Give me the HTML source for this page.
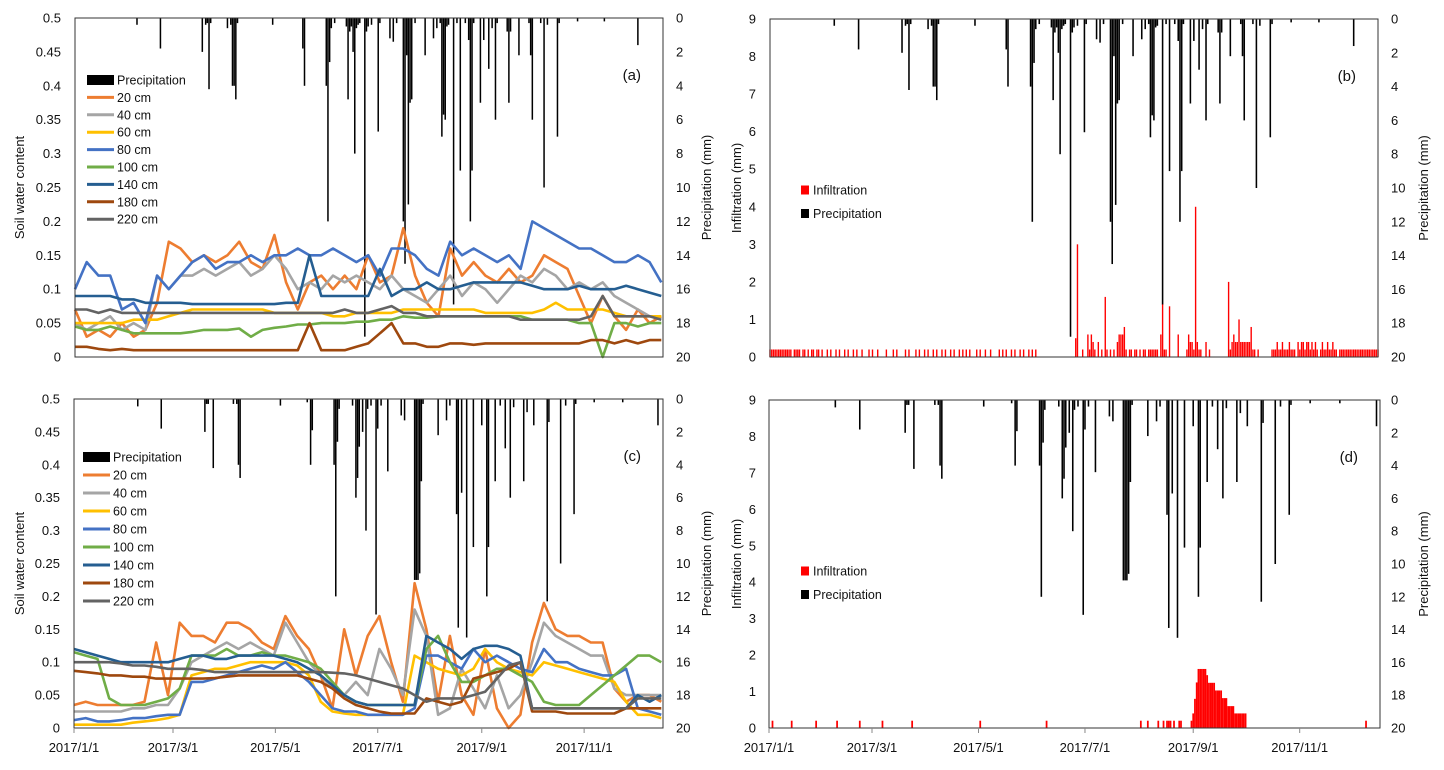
<!DOCTYPE html>
<html><head><meta charset="utf-8">
<style>
html,body{margin:0;padding:0;background:#fff;}
svg{display:block;font-family:"Liberation Sans",Arial,sans-serif;}
</style></head>
<body>
<svg id="fig" width="1444" height="770" viewBox="0 0 1444 770" xmlns="http://www.w3.org/2000/svg"></svg>
<script>
// ---------- DATA ----------
const depthNames = ["20 cm","40 cm","60 cm","80 cm","100 cm","140 cm","180 cm","220 cm"];
const depthColors = ["#ED7D31","#A5A5A5","#FFC000","#4472C4","#70AD47","#255E91","#9E480E","#636363"];
const stepDays = 7;
const dateTickDays = [0,59,120,181,243,304];
const dateTickLabels = ["2017/1/1","2017/3/1","2017/5/1","2017/7/1","2017/9/1","2017/11/1"];
const swcTicks = [0,0.05,0.1,0.15,0.2,0.25,0.3,0.35,0.4,0.45,0.5];
const swcTickLabels = ["0","0.05","0.1","0.15","0.2","0.25","0.3","0.35","0.4","0.45","0.5"];
const precTicks = [0,2,4,6,8,10,12,14,16,18,20];
const infTicks = [0,1,2,3,4,5,6,7,8,9];

const topPrecip = [[37,0.4],[51,1.8],[76,2.0],[78,0.4],[79,0.3],[80,4.2],[81,0.3],[91,0.6],[93,0.4],[94,4.0],[95,4.0],[96,4.8],[97,0.3],[118,0.4],[136,1.8],[137,4.0],[150,4.0],[151,12.0],[152,2.6],[153,0.6],[155,0.3],[162,0.5],[163,4.8],[164,0.8],[165,0.5],[166,2.0],[167,8.0],[168,0.6],[169,0.4],[170,0.3],[173,18.8],[174,0.8],[175,0.5],[177,0.4],[181,6.7],[182,0.3],[188,1.2],[190,1.4],[192,0.3],[196,12],[197,14.5],[198,2.2],[199,11],[200,5],[201,4.8],[203,0.3],[209,2.2],[214,1.2],[216,0.6],[218,0.3],[219,7],[220,5.7],[221,6],[222,0.5],[223,0.4],[226,16.9],[228,0.3],[230,9],[233,0.3],[235,1.3],[236,12],[237,9],[238,0.3],[242,5],[244,1.3],[247,3],[249,0.6],[251,6],[252,0.3],[258,0.8],[259,5],[260,0.8],[265,2.2],[271,0.3],[272,2.2],[273,6],[278,0.3],[280,10],[282,0.4],[288,7],[289,0.3],[300,0.2],[316,0.2],[336,1.6]];
const botPrecip = [[38,0.45],[52,1.8],[78,2.0],[79,0.3],[80,0.3],[83,4.2],[95,0.3],[97,0.3],[98,4.0],[99,4.8],[123,0.4],[139,0.2],[141,4],[142,1.9],[155,4],[156,12],[157,2.6],[158,0.6],[166,0.4],[168,6],[169,4.8],[170,2.9],[172,2.0],[174,8],[175,0.6],[177,0.4],[180,13.1],[181,1.8],[183,0.4],[187,4.4],[195,1.0],[197,1.3],[203,11],[204,11],[205,11],[206,10.6],[207,5],[208,0.3],[217,2.2],[222,1.3],[224,0.4],[228,7],[229,13.9],[231,5.7],[234,14.5],[238,9],[243,1.6],[246,12],[247,9],[251,5],[254,0.4],[257,3],[260,6],[262,0.5],[268,5],[270,0.8],[274,1.6],[282,12.3],[283,1.4],[290,10],[293,0.4],[298,7],[299,0.3],[310,0.2],[327,0.2],[348,1.6]];

const a20 = [0.07,0.03,0.04,0.03,0.05,0.03,0.04,0.08,0.17,0.16, 0.14,0.15,0.14,0.15,0.17,0.14,0.13,0.18,0.11,0.07, 0.11,0.12,0.10,0.12,0.10,0.15,0.11,0.12,0.19,0.12, 0.08,0.06,0.16,0.12,0.14,0.12,0.11,0.13,0.11,0.12, 0.15,0.14,0.13,0.09,0.05,0.09,0.06,0.04,0.07,0.05,0.06];
const a40 = [0.05,0.04,0.05,0.06,0.04,0.05,0.04,0.12,0.10,0.12, 0.12,0.13,0.12,0.13,0.14,0.12,0.13,0.15,0.13,0.10, 0.11,0.10,0.12,0.11,0.12,0.11,0.10,0.12,0.10,0.09, 0.08,0.10,0.12,0.09,0.11,0.10,0.08,0.10,0.12,0.11, 0.13,0.12,0.10,0.11,0.10,0.11,0.09,0.08,0.07,0.06,0.06];
const a60 = [0.05,0.05,0.05,0.05,0.05,0.055,0.055,0.055,0.06,0.065, 0.07,0.07,0.07,0.07,0.07,0.07,0.07,0.065,0.065,0.065, 0.065,0.065,0.06,0.06,0.065,0.065,0.065,0.065,0.07,0.07, 0.07,0.07,0.07,0.07,0.07,0.065,0.065,0.065,0.065,0.065, 0.07,0.08,0.07,0.07,0.07,0.07,0.065,0.06,0.06,0.06,0.06];
const a80 = [0.10,0.14,0.12,0.12,0.07,0.08,0.05,0.12,0.10,0.12, 0.14,0.15,0.13,0.14,0.14,0.15,0.14,0.15,0.15,0.16, 0.15,0.15,0.16,0.15,0.14,0.15,0.12,0.16,0.16,0.15, 0.13,0.12,0.17,0.15,0.16,0.15,0.14,0.15,0.13,0.20, 0.19,0.18,0.17,0.16,0.16,0.15,0.14,0.14,0.15,0.14,0.11];
const a100 = [0.045,0.04,0.04,0.045,0.04,0.035,0.035,0.035,0.035,0.035, 0.037,0.04,0.04,0.04,0.042,0.03,0.04,0.043,0.045,0.048, 0.048,0.05,0.05,0.05,0.052,0.052,0.055,0.055,0.06,0.058, 0.058,0.06,0.06,0.06,0.06,0.06,0.06,0.06,0.06,0.055, 0.055,0.055,0.055,0.05,0.05,0.0,0.05,0.05,0.045,0.05,0.05];
const a140 = [0.09,0.09,0.09,0.09,0.085,0.085,0.08,0.08,0.08,0.08, 0.078,0.078,0.078,0.078,0.078,0.078,0.078,0.078,0.08,0.08, 0.15,0.09,0.09,0.09,0.09,0.09,0.13,0.09,0.10,0.10, 0.11,0.10,0.10,0.105,0.11,0.11,0.11,0.11,0.11,0.105, 0.10,0.10,0.10,0.105,0.10,0.10,0.10,0.105,0.10,0.095,0.09];
const a180 = [0.015,0.015,0.012,0.01,0.012,0.01,0.01,0.01,0.01,0.01, 0.01,0.01,0.01,0.01,0.01,0.01,0.01,0.01,0.01,0.01, 0.05,0.01,0.01,0.01,0.015,0.02,0.035,0.05,0.02,0.02, 0.015,0.015,0.02,0.02,0.018,0.02,0.02,0.02,0.02,0.02, 0.02,0.02,0.02,0.02,0.025,0.025,0.02,0.025,0.02,0.025,0.025];
const a220 = [0.07,0.07,0.065,0.07,0.065,0.065,0.065,0.065,0.065,0.065, 0.065,0.065,0.065,0.065,0.065,0.065,0.065,0.065,0.065,0.065, 0.065,0.065,0.065,0.07,0.065,0.065,0.07,0.075,0.065,0.065, 0.06,0.06,0.06,0.06,0.06,0.06,0.06,0.06,0.055,0.055, 0.055,0.055,0.055,0.055,0.06,0.09,0.06,0.06,0.06,0.06,0.055];

const c20 = [0.035,0.04,0.035,0.035,0.035,0.035,0.04,0.13,0.05,0.16, 0.14,0.14,0.13,0.16,0.16,0.15,0.13,0.12,0.17,0.14, 0.12,0.08,0.03,0.15,0.08,0.14,0.17,0.10,0.04,0.22, 0.15,0.04,0.14,0.05,0.02,0.12,0.03,0.0,0.02,0.13, 0.19,0.15,0.14,0.14,0.13,0.13,0.06,0.04,0.05,0.05,0.04];
const c40 = [0.025,0.025,0.025,0.025,0.025,0.03,0.03,0.035,0.035,0.06, 0.10,0.11,0.12,0.13,0.12,0.13,0.12,0.11,0.16,0.13, 0.10,0.08,0.06,0.05,0.07,0.05,0.12,0.09,0.05,0.18, 0.14,0.02,0.03,0.09,0.06,0.03,0.08,0.03,0.05,0.10, 0.16,0.14,0.13,0.12,0.11,0.11,0.06,0.05,0.05,0.05,0.05];
const c60 = [0.005,0.005,0.005,0.005,0.005,0.008,0.01,0.012,0.015,0.02, 0.08,0.085,0.09,0.09,0.095,0.1,0.1,0.1,0.1,0.095, 0.08,0.04,0.025,0.022,0.02,0.02,0.02,0.02,0.02,0.11, 0.1,0.09,0.085,0.08,0.09,0.12,0.1,0.09,0.085,0.08, 0.1,0.095,0.09,0.085,0.08,0.075,0.07,0.04,0.02,0.02,0.015];
const c80 = [0.012,0.015,0.01,0.01,0.012,0.015,0.015,0.018,0.02,0.02, 0.07,0.07,0.075,0.08,0.085,0.09,0.095,0.09,0.10,0.085, 0.07,0.05,0.03,0.025,0.025,0.02,0.02,0.02,0.02,0.03, 0.11,0.11,0.10,0.09,0.12,0.10,0.11,0.10,0.09,0.085, 0.12,0.10,0.10,0.09,0.085,0.08,0.08,0.09,0.03,0.025,0.02];
const c100 = [0.115,0.11,0.105,0.045,0.035,0.035,0.035,0.04,0.045,0.06, 0.11,0.11,0.11,0.12,0.11,0.11,0.115,0.11,0.11,0.105, 0.10,0.09,0.07,0.05,0.04,0.035,0.035,0.035,0.035,0.035, 0.12,0.14,0.10,0.07,0.07,0.08,0.09,0.09,0.08,0.07, 0.04,0.035,0.035,0.035,0.05,0.065,0.08,0.095,0.11,0.11,0.10];
const c140 = [0.12,0.115,0.11,0.105,0.10,0.10,0.10,0.10,0.10,0.105, 0.11,0.11,0.105,0.105,0.11,0.11,0.11,0.11,0.105,0.10, 0.09,0.08,0.065,0.05,0.04,0.035,0.035,0.035,0.035,0.035, 0.14,0.13,0.12,0.105,0.12,0.125,0.125,0.12,0.11,0.03, 0.03,0.03,0.03,0.03,0.03,0.03,0.03,0.03,0.05,0.04,0.05];
const c180 = [0.087,0.085,0.083,0.08,0.08,0.078,0.078,0.075,0.075,0.075, 0.075,0.075,0.076,0.078,0.08,0.08,0.08,0.08,0.08,0.08, 0.075,0.07,0.06,0.045,0.035,0.03,0.025,0.022,0.022,0.022, 0.045,0.04,0.035,0.04,0.075,0.08,0.085,0.09,0.10,0.025, 0.025,0.025,0.022,0.022,0.022,0.022,0.022,0.03,0.03,0.03,0.03];
const c220 = [0.1,0.1,0.1,0.1,0.098,0.095,0.095,0.093,0.09,0.09, 0.09,0.088,0.085,0.085,0.085,0.085,0.085,0.085,0.085,0.085, 0.085,0.085,0.084,0.083,0.08,0.075,0.07,0.065,0.06,0.05, 0.04,0.045,0.045,0.045,0.05,0.055,0.075,0.095,0.1,0.03, 0.03,0.03,0.03,0.03,0.03,0.03,0.03,0.03,0.045,0.045,0.045];

const bBaseDays = [0,1,2,3,4,5,6,7,8,9,10,11,12,14,15,16,17,19,20,22,24,25,27,28,30,33,35,38,40,43,45,48,50,53,57,59,62,67,71,73,78,80,84,86,89,91,94,96,99,101,104,106,109,111,113,115,119,121,124,127,132,134,136,139,141,144,146,149,151,153,180,184,187,191,194,196,198,205,207,208,210,211,213,215,216,218,219,220,221,222,223,227,228,240,244,247,248,253,265,278,279,281,289,290,291,293,294,296,297,298,300,301,302,305,308,311,313,315,317,319,320,322,323,325,326,328,329,330,331,332,333,334,335,336,337,338,339,340,341,342,343,344,345,346,347,348,349,350];
const bInf = [[176,0.5],[177,3.0],[183,0.6],[185,0.6],[186,0.4],[189,0.4],[193,1.6],[200,0.4],[201,0.6],[202,0.6],[203,0.6],[204,0.8],[225,0.6],[226,1.4],[230,1.35],[235,0.6],[241,0.6],[242,0.4],[243,0.4],[245,4.0],[246,0.4],[251,0.4],[264,2.0],[266,0.4],[267,0.6],[268,0.4],[269,0.4],[270,1.0],[271,0.4],[272,0.4],[273,0.4],[274,0.4],[275,0.4],[276,0.4],[277,0.8],[292,0.4],[295,0.4],[299,0.4],[304,0.4],[306,0.4],[307,0.4],[309,0.4],[310,0.4],[312,0.4],[314,0.4],[318,0.4],[321,0.4],[324,0.4]];
const dBaseDays = [2,13,27,39,52,65,82,121,159,213,217,223,226,228,229,230,232,235,236,242,342];
const dInf = [[243,0.4],[244,0.8],[245,1.25],[246,1.62],[247,1.62],[248,1.62],[249,1.62],[250,1.62],[251,1.45],[252,1.24],[253,1.24],[254,1.24],[255,1.24],[256,1.03],[257,1.03],[258,1.03],[259,1.03],[260,0.82],[261,0.82],[262,0.82],[263,0.6],[264,0.6],[265,0.6],[266,0.6],[267,0.4],[268,0.4],[269,0.4],[270,0.4],[271,0.4],[272,0.4],[273,0.4]];

// ---------- DRAW ----------
const NS = "http://www.w3.org/2000/svg";
const svg = document.getElementById("fig");
function mk(tag, attrs, parent){
  const e = document.createElementNS(NS, tag);
  for (const k in attrs) e.setAttribute(k, attrs[k]);
  (parent||svg).appendChild(e);
  return e;
}
function txt(s, attrs, parent){ const t = mk("text", attrs, parent); t.textContent = s; return t; }

function panel(cfg){
  const g = mk("g", {});
  
  
  const L=cfg.L,R=cfg.R,T=cfg.T,B=cfg.B;
  const x = d => L + d*(R-L)/cfg.days;
  const yL = v => B - v/cfg.lmax*(B-T);
  const yR = v => T + v/20*(B-T);
  const dw = (R-L)/cfg.days;
  // precipitation bars
  const pg = mk("g", {}, g);
  
  
  cfg.precip.forEach(p => {
    const r = mk("rect", {x:(x(p[0])-dw*0.45).toFixed(2), y:T, width:(dw*0.9).toFixed(2), height:(yR(p[1])-T).toFixed(2), fill:"#000"}, pg);
    
    
  });
  // soil lines
  if (cfg.series){
    cfg.series.forEach((s,i) => {
      const pts = s.map((v,k) => x(k*stepDays).toFixed(1)+","+yL(v).toFixed(1)).join(" ");
      const pl = mk("polyline", {points:pts, fill:"none", stroke:depthColors[i], "stroke-width":2.6, "stroke-linejoin":"round"}, g);
      
      
    });
  }
  // infiltration bars
  if (cfg.base){
    const ig = mk("g", {}, g);
    
    
    const all = cfg.base.map(d => [d,0.2]).concat(cfg.inf);
    all.forEach(p => {
      const w = cfg.contig ? dw : dw*0.8;
      const r = mk("rect", {x:(x(p[0])-w/2).toFixed(2), y:yL(p[1]).toFixed(2), width:w.toFixed(2), height:(B-yL(p[1])).toFixed(2), fill:"#FF0000"}, ig);
      
      
    });
  }
  // frame
  const fr = mk("rect", {x:L, y:T, width:R-L, height:B-T, fill:"none", stroke:"#333", "stroke-width":1}, g);
  
  
  // left ticks
  cfg.lticks.forEach((v,i) => {
    const t = txt(cfg.llabels[i], {x:cfg.lx, y:yL(v)+4.5, "text-anchor":"end", "font-size":13, fill:"#111"}, g);
    
    
  });
  precTicks.forEach(v => {
    const t = txt(String(v), {x:cfg.rx, y:yR(v)+4.5, "text-anchor":"start", "font-size":13, fill:"#111"}, g);
    
    
  });
  if (cfg.dates){
    dateTickDays.forEach((d,i) => {
      mk("line", {x1:x(d), y1:B, x2:x(d), y2:B+5, stroke:"#888"}, g);
      const t = txt(dateTickLabels[i], {x:x(d), y:B+24, "text-anchor":"middle", "font-size":13, fill:"#111"}, g);
      
      
    });
  }
  const cy = (T+B)/2;
  const lt = txt(cfg.ltitle, {x:0, y:0, transform:`translate(${cfg.ltx},${cy}) rotate(-90)`, "text-anchor":"middle", "font-size":13, fill:"#111"}, g);
  
  
  const rt = txt("Precipitation (mm)", {x:0, y:0, transform:`translate(${cfg.rtx},${cy}) rotate(-90)`, "text-anchor":"middle", "font-size":13, fill:"#111"}, g);
  
  
  const pl = txt(cfg.label, {x:R-22, y:T+62, "text-anchor":"end", "font-size":15, fill:"#111"}, g);
  
  
  // legend
  const lg = mk("g", {}, g);
  
  
  if (cfg.series){
    const ys = cfg.legY;
    const e0 = mk("rect", {x:cfg.legX, y:ys-5, width:27, height:10, fill:"#000"}, lg);
    
    
    const t0 = txt("Precipitation", {x:cfg.legX+30, y:ys+4.5, "font-size":12.5, fill:"#111"}, lg);
    
    
    depthNames.forEach((n,i) => {
      const yy = ys + (i+1)*cfg.legDy;
      const l = mk("line", {x1:cfg.legX, y1:yy, x2:cfg.legX+27, y2:yy, stroke:depthColors[i], "stroke-width":3}, lg);
      
      
      const t = txt(n, {x:cfg.legX+30, y:yy+4.5, "font-size":12.5, fill:"#111"}, lg);
      
      
    });
  } else {
    [["Infiltration","#FF0000"],["Precipitation","#000"]].forEach((e,i) => {
      const yy = cfg.legY + i*23.5;
      const s = mk("rect", {x:cfg.legX, y:yy-4.5, width:8, height:9, fill:e[1]}, lg);
      
      
      const t = txt(e[0], {x:cfg.legX+12, y:yy+4.5, "font-size":12.5, fill:"#111"}, lg);
      
      
    });
  }
}

panel({name:"panel-a", L:75, R:663, T:18, B:357, days:351, lmax:0.5, precip:topPrecip,
  series:[a20,a40,a60,a80,a100,a140,a180,a220], lticks:swcTicks, llabels:swcTickLabels,
  lx:61, rx:676, ltx:24, rtx:711, ltitle:"Soil water content", label:"(a)", legX:87, legY:80, legDy:17.4, dates:false});
panel({name:"panel-c", L:74, R:663, T:399, B:728, days:351, lmax:0.5, precip:botPrecip,
  series:[c20,c40,c60,c80,c100,c140,c180,c220], lticks:swcTicks, llabels:swcTickLabels,
  lx:60, rx:676, ltx:24, rtx:711, ltitle:"Soil water content", label:"(c)", legX:83, legY:457, legDy:18, dates:true});
panel({name:"panel-b", L:770, R:1378, T:19, B:357, days:350, lmax:9, precip:topPrecip,
  base:bBaseDays, inf:bInf, contig:false, lticks:infTicks, llabels:infTicks.map(String),
  lx:756, rx:1391, ltx:741, rtx:1428, ltitle:"Infiltration (mm)", label:"(b)", legX:801, legY:190, dates:false});
panel({name:"panel-d", L:769, R:1380, T:400, B:728, days:350, lmax:9, precip:botPrecip,
  base:dBaseDays, inf:dInf, contig:true, lticks:infTicks, llabels:infTicks.map(String),
  lx:756, rx:1391, ltx:741, rtx:1428, ltitle:"Infiltration (mm)", label:"(d)", legX:801, legY:571, dates:true});
</script>
</body></html>
